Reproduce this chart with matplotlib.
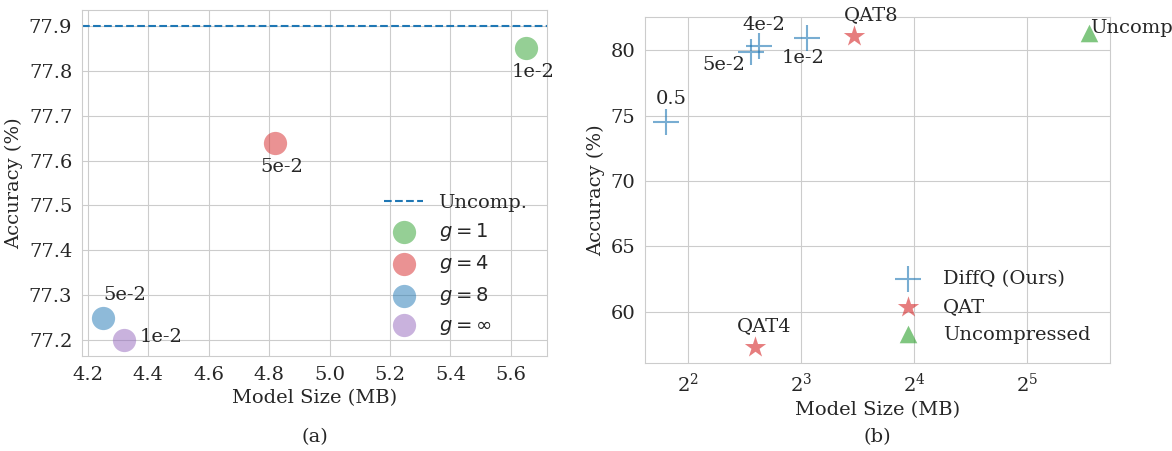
import matplotlib
matplotlib.use("Agg")
import matplotlib.pyplot as plt
from matplotlib.ticker import MultipleLocator
import seaborn as sns
import numpy as np

sns.set_style("whitegrid")
plt.rcParams['font.family'] = ['DejaVu Serif']
plt.rcParams['mathtext.fontset'] = 'dejavusans'

# Panel (a)
g_labels = ["$g = 1$", "$g = 4$", "$g = 8$", "$g = \\infty$"]
g_sizes = [5.65, 4.82, 4.25, 4.32]
g_acc = [77.85, 77.64, 77.25, 77.20]
g_notes = ["1e-2", "5e-2", "5e-2", "1e-2"]
g_colors = ["tab:green", "tab:red", "tab:blue", "tab:purple"]
uncomp_a = 77.9

# Panel (b)
diffq_sizes = [3.50, 5.89, 6.17, 8.28]
diffq_acc = [74.5, 79.87, 80.3, 80.95]
diffq_notes = ["0.5", "5e-2", "4e-2", "1e-2"]
qat_sizes = [11.07, 6.03]
qat_acc = [81.1, 57.3]
qat_notes = ["QAT8", "QAT4"]
unc_size = [46.6]
unc_acc = [81.33]

fig = plt.figure(figsize=(11.72, 4.51), dpi=100)
W, H = 1172, 451
ax1 = fig.add_axes([82/W, 1-356/H, (547-82)/W, (356-10)/H])
ax2 = fig.add_axes([645/W, 1-363/H, (1110-645)/W, (363-17)/H])

fs = 14
ax1.axhline(uncomp_a, ls="--", color="tab:blue", lw=1.5, label="Uncomp.")
for x, y, c, lab in zip(g_sizes, g_acc, g_colors, g_labels):
    ax1.scatter([x], [y], s=280, color=c, alpha=0.5, lw=0, label=lab)
offs_a = [(5, -11, "center", "top"), (5, -11, "center", "top"),
          (0, 10, "left", "bottom"), (11, 2, "left", "center")]
for x, y, t, (dx, dy, ha, va) in zip(g_sizes, g_acc, g_notes, offs_a):
    ax1.annotate(t, (x, y), xytext=(dx, dy), textcoords="offset points",
                 ha=ha, va=va, fontsize=fs)
ax1.xaxis.set_major_locator(MultipleLocator(0.2))
ax1.set_xlabel("Model Size (MB)", fontsize=fs)
ax1.set_ylabel("Accuracy (%)", fontsize=fs)
ax1.tick_params(labelsize=fs)
ax1.legend(loc="lower right", fontsize=fs, frameon=False, borderaxespad=0.6)

ax2.set_xscale("log", base=2)
ax2.scatter(diffq_sizes, diffq_acc, marker="+", s=330, color="tab:blue",
            alpha=0.6, lw=1.5, label="DiffQ (Ours)")
ax2.scatter(qat_sizes, qat_acc, marker="*", s=260, color="tab:red",
            alpha=0.6, lw=0, label="QAT")
ax2.scatter(unc_size, unc_acc, marker="^", s=160, color="tab:green",
            alpha=0.6, lw=0, label="Uncompressed")
offs_b = [(4, 10, "center", "bottom"), (-4, -3, "right", "top"),
          (4, 9, "center", "bottom"), (-3, -8, "center", "top")]
for x, y, t, (dx, dy, ha, va) in zip(diffq_sizes, diffq_acc, diffq_notes, offs_b):
    ax2.annotate(t, (x, y), xytext=(dx, dy), textcoords="offset points",
                 ha=ha, va=va, fontsize=fs)
offs_q = [(12, 8), (7, 9)]
for x, y, t, (dx, dy) in zip(qat_sizes, qat_acc, qat_notes, offs_q):
    ax2.annotate(t, (x, y), xytext=(dx, dy), textcoords="offset points",
                 ha="center", va="bottom", fontsize=fs)
ax2.annotate("Uncomp.", (unc_size[0], unc_acc[0]), xytext=(1, 0),
             textcoords="offset points", ha="left", va="baseline", fontsize=fs,
             annotation_clip=False)
ax2.set_xticks([4, 8, 16, 32])
ax2.set_xlabel("Model Size (MB)", fontsize=fs)
ax2.set_ylabel("Accuracy (%)", fontsize=fs)
ax2.tick_params(labelsize=fs)
ax2.legend(loc="lower right", fontsize=fs, frameon=False, borderaxespad=0.6)

fig.text((82+547)/2/W, 1-437/H, "(a)", ha="center", va="center", fontsize=fs)
fig.text((645+1110)/2/W, 1-437/H, "(b)", ha="center", va="center", fontsize=fs)

fig.savefig("out.png", dpi=100)
